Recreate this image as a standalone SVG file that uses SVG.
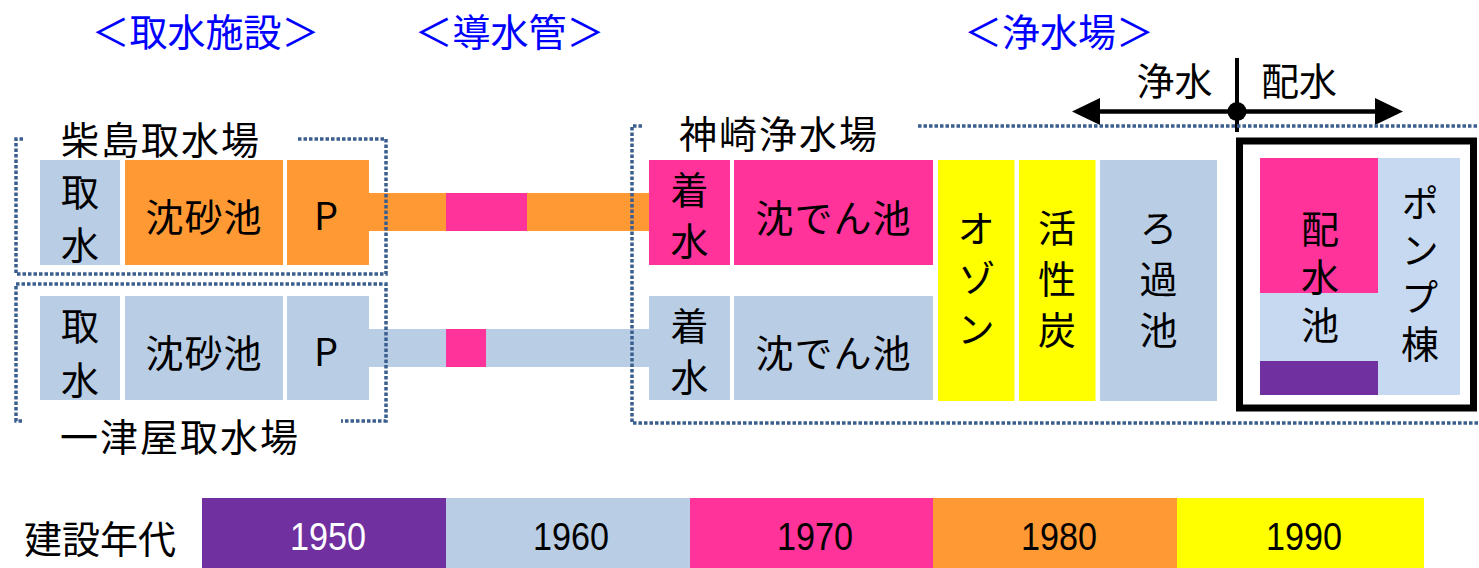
<svg xmlns="http://www.w3.org/2000/svg" width="1479" height="568" viewBox="0 0 1479 568">
<style>
.t{font-family:"Noto Sans CJK JP","Noto Sans",sans-serif;font-size:38px;fill:#000;text-anchor:middle;dominant-baseline:central}
.v{writing-mode:vertical-rl;text-orientation:upright;dominant-baseline:central}
.h{fill:#0000ff}
.blue{fill:#b9cde5}
.lblue{fill:#c6d9f1}
.pink{fill:#ff3399}
.orange{fill:#ff9933}
.yellow{fill:#ffff00}
.purple{fill:#7030a0}
.dot{fill:none;stroke:#3a5f8e;stroke-width:3.5;stroke-dasharray:3.5 2}
.yr{font-family:"Liberation Sans",Arial,sans-serif;font-size:39px;fill:#000;text-anchor:middle;dominant-baseline:central}
</style>
<rect width="1479" height="568" fill="#fff"/>

<g id="headings">
<text class="t h" x="205.5" y="29" font-size="39">＜取水施設＞</text>
<text class="t h" x="509.5" y="29" font-size="39">＜導水管＞</text>
<text class="t h" x="1059" y="29" font-size="39">＜浄水場＞</text>
</g>

<g id="connectors">
<g id="pipe1">
<rect class="orange" x="368" y="193" width="79" height="38"/>
<rect class="pink" x="446" y="193" width="81" height="38"/>
<rect class="orange" x="527" y="193" width="123" height="38"/>
</g>
<g id="pipe2">
<rect class="blue" x="368" y="329" width="79" height="38"/>
<rect class="pink" x="446" y="329" width="40" height="38"/>
<rect class="blue" x="486" y="329" width="164" height="38"/>
</g>
<g id="division-arrow">
<line x1="1237" y1="58" x2="1237" y2="132" stroke="#000" stroke-width="4"/>
<line x1="1098" y1="111.5" x2="1377" y2="111.5" stroke="#000" stroke-width="4.5"/>
<polygon points="1072,111.5 1100,98 1100,125" fill="#000"/>
<polygon points="1403,111.5 1375,98 1375,125" fill="#000"/>
<circle cx="1237" cy="111.5" r="9.5" fill="#000"/>
</g>
</g>

<g id="kunijima">
<path class="dot" d="M23 139 H16 V274 H386 V139 H297"/>
<text class="t" x="161" y="137" letter-spacing="2">柴島取水場</text>
<g id="k-intake"><rect class="blue" x="40" y="160" width="80" height="105"/>
<text class="t v" x="80" y="226" letter-spacing="15">取水</text></g>
<g id="k-grit"><rect class="orange" x="125" y="160" width="158" height="105"/>
<text class="t" x="204" y="214" letter-spacing="1">沈砂池</text></g>
<g id="k-pump"><rect class="orange" x="287" y="160" width="82" height="105"/>
<text class="t" x="326" y="213">P</text></g>
</g>

<g id="hitotsuya">
<path class="dot" d="M22 421 H16 V284 H386 V421 H341"/>
<text class="t" x="180" y="434" letter-spacing="2">一津屋取水場</text>
<g id="h-intake"><rect class="blue" x="40" y="296" width="80" height="104"/>
<text class="t v" x="80" y="361" letter-spacing="16">取水</text></g>
<g id="h-grit"><rect class="blue" x="125" y="296" width="158" height="104"/>
<text class="t" x="204" y="350" letter-spacing="1">沈砂池</text></g>
<g id="h-pump"><rect class="blue" x="287" y="296" width="82" height="104"/>
<text class="t" x="326" y="349">P</text></g>
</g>

<g id="kanzaki">
<path class="dot" d="M642 126 H632 V423 H1479 M918 126 H1479"/>
<text class="t" x="779" y="131" letter-spacing="2">神崎浄水場</text>
<g id="receiving1"><rect class="pink" x="649" y="160" width="81" height="105"/>
<text class="t v" x="689.5" y="222" letter-spacing="13">着水</text></g>
<g id="sedimentation1"><rect class="pink" x="734" y="160" width="199" height="105"/>
<text class="t" x="833.5" y="215" letter-spacing="1">沈でん池</text></g>
<g id="receiving2"><rect class="blue" x="649" y="296" width="81" height="104"/>
<text class="t v" x="689.5" y="358" letter-spacing="13">着水</text></g>
<g id="sedimentation2"><rect class="blue" x="734" y="296" width="199" height="104"/>
<text class="t" x="833.5" y="350" letter-spacing="1">沈でん池</text></g>
<g id="ozone"><rect class="yellow" x="938" y="160" width="76.5" height="241"/>
<text class="t v" x="976" y="284" letter-spacing="12.5">オゾン</text></g>
<g id="carbon"><rect class="yellow" x="1019" y="160" width="76.5" height="241"/>
<text class="t v" x="1057" y="285.5" letter-spacing="13">活性炭</text></g>
<g id="filter"><rect class="blue" x="1100" y="160" width="117" height="241"/>
<text class="t v" x="1158.5" y="285.5" letter-spacing="13">ろ過池</text></g>
<g id="distribution">
<rect x="1239.5" y="141" width="234" height="267" fill="none" stroke="#000" stroke-width="7"/>
<g id="reservoir">
<rect class="lblue" x="1260" y="158" width="118" height="237"/>
<rect class="pink" x="1260" y="158" width="118" height="135"/>
<rect class="purple" x="1260" y="361" width="118" height="34"/>
<text class="t v" x="1320" y="282" letter-spacing="10">配水池</text>
</g>
<g id="pumphouse">
<rect class="lblue" x="1378" y="158" width="82" height="237"/>
<text class="t v" x="1420" y="278" letter-spacing="9">ポンプ棟</text>
</g>
</g>
<text class="t" x="1174.5" y="78" font-size="42">浄水</text>
<text class="t" x="1299" y="78" font-size="42">配水</text>
</g>

<g id="legend">
<text class="t" x="100" y="536" font-size="40">建設年代</text>
<rect class="purple" x="202" y="498" width="244.5" height="70"/>
<rect class="blue" x="446" y="498" width="244.5" height="70"/>
<rect class="pink" x="690" y="498" width="243.5" height="70"/>
<rect class="orange" x="933" y="498" width="244.5" height="70"/>
<rect class="yellow" x="1177" y="498" width="247" height="70"/>
<text class="yr" x="328" y="536" style="fill:#fff" textLength="76" lengthAdjust="spacingAndGlyphs">1950</text>
<text class="yr" x="571" y="536" textLength="76" lengthAdjust="spacingAndGlyphs">1960</text>
<text class="yr" x="815" y="536" textLength="76" lengthAdjust="spacingAndGlyphs">1970</text>
<text class="yr" x="1059" y="536" textLength="76" lengthAdjust="spacingAndGlyphs">1980</text>
<text class="yr" x="1304" y="536" textLength="76" lengthAdjust="spacingAndGlyphs">1990</text>
</g>
</svg>
